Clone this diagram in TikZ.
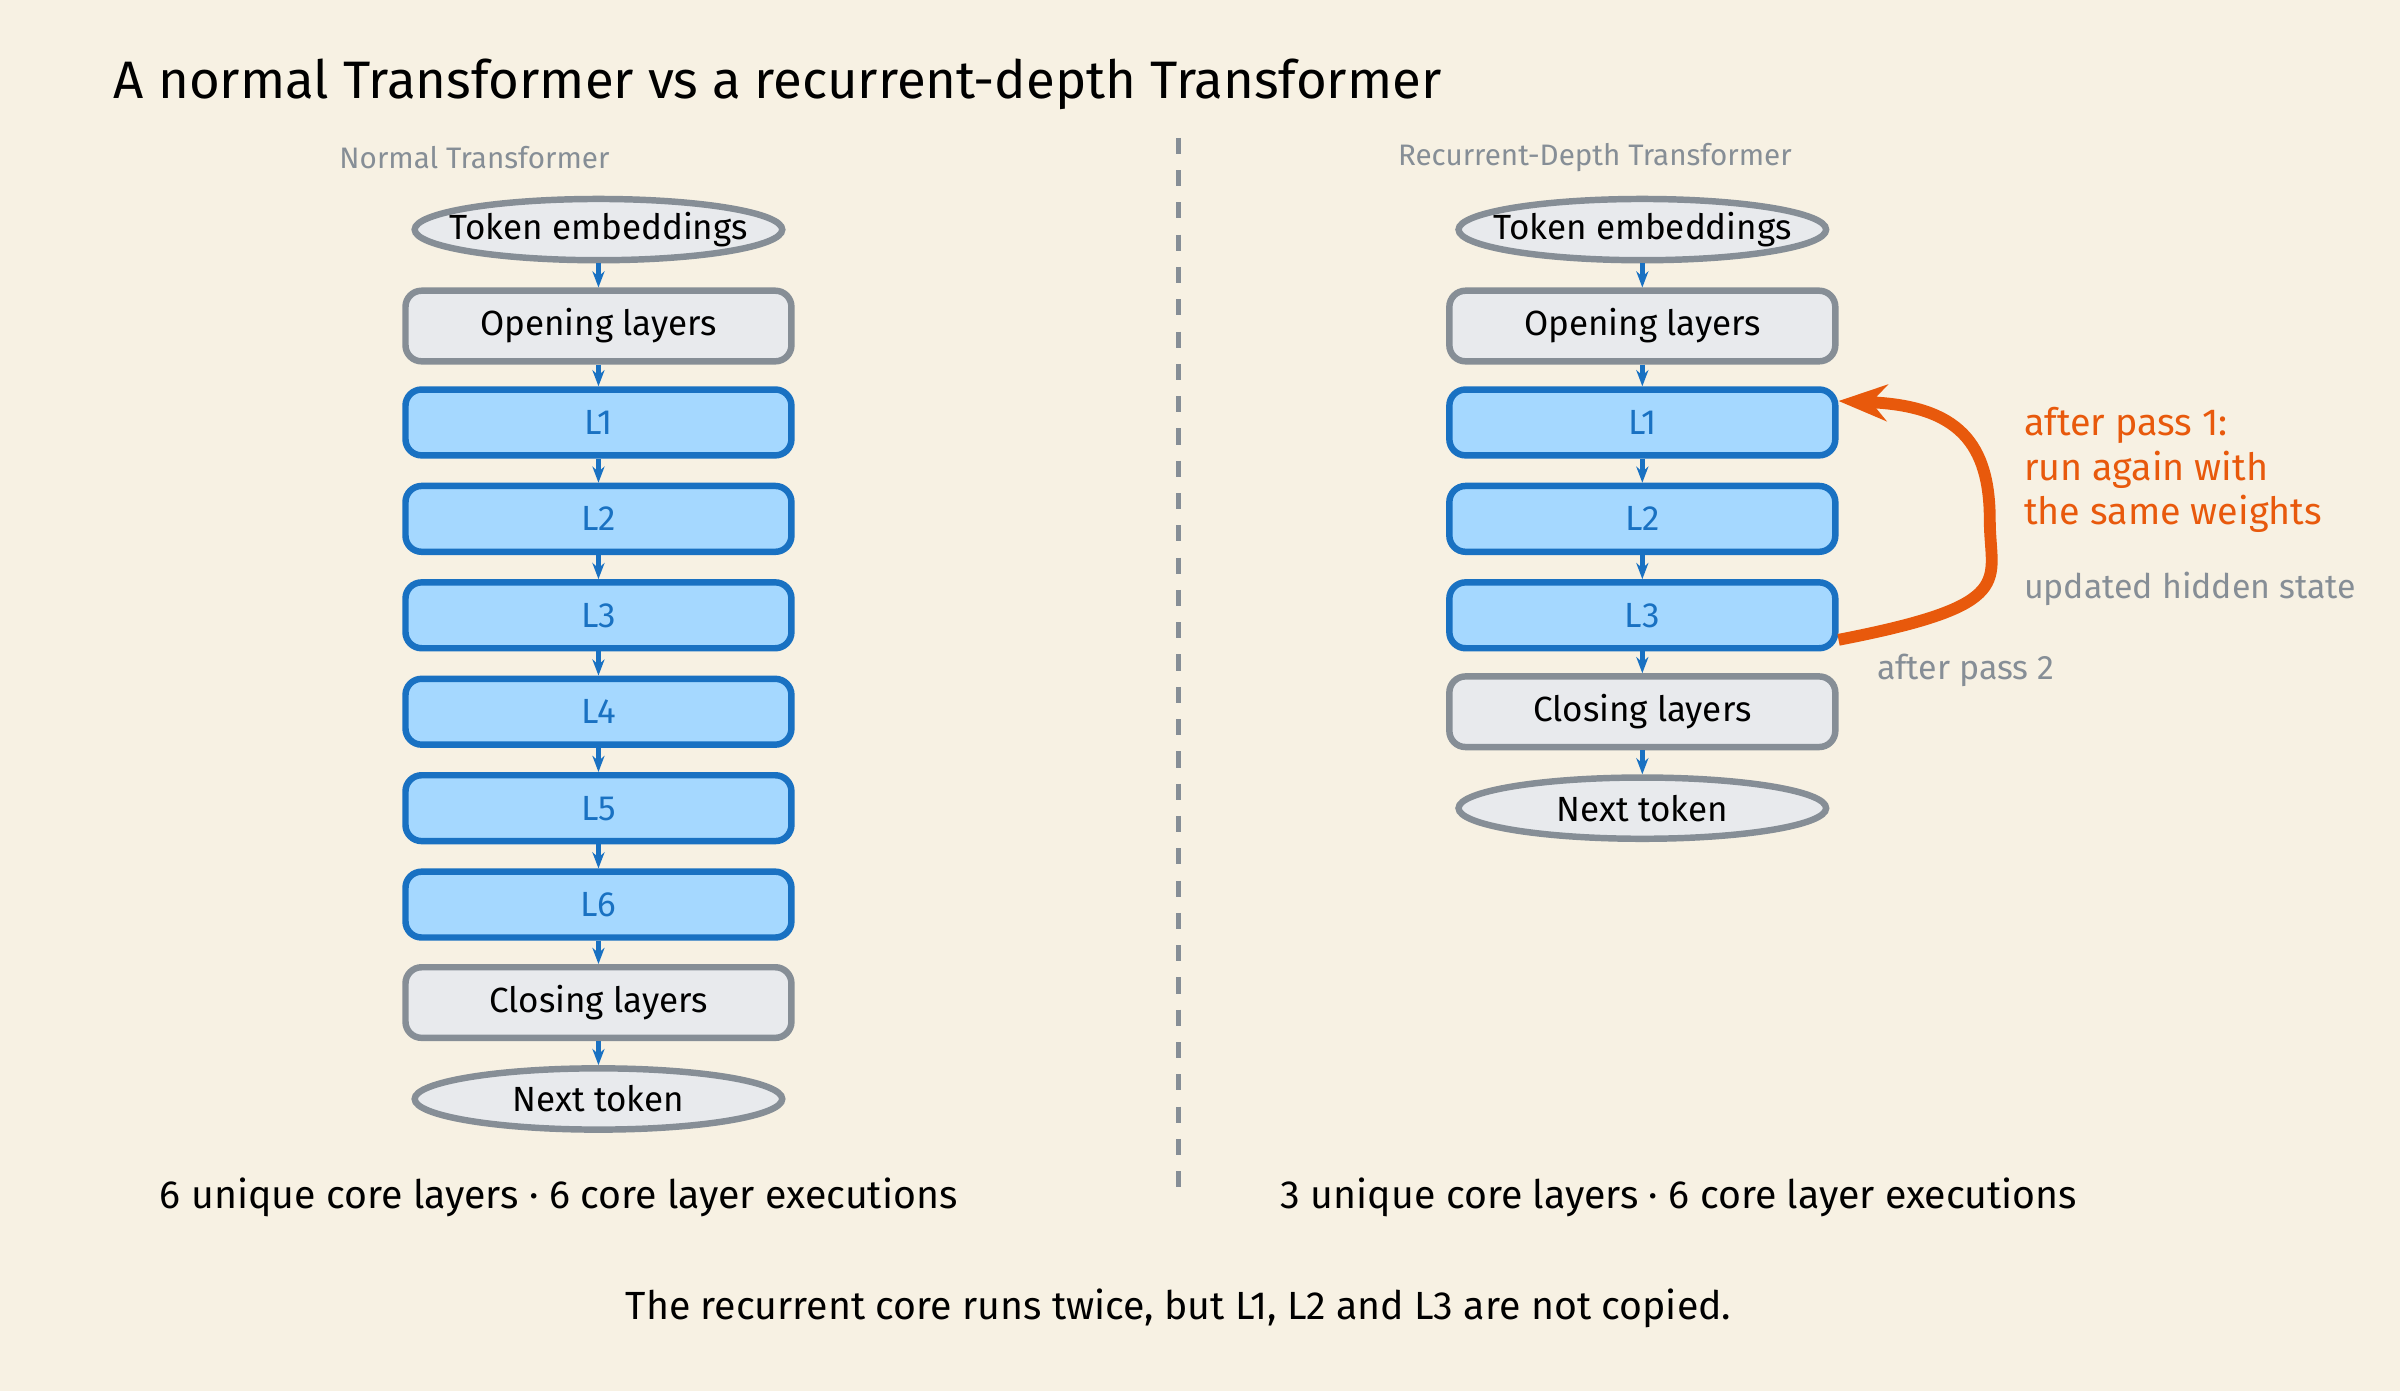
\documentclass[tikz,border=0pt]{standalone}
\usepackage{fontspec}
\setmainfont{Fira Sans}
\usetikzlibrary{shapes.geometric,arrows.meta}
\definecolor{paper}{HTML}{F7F1E3}
\definecolor{boxgray}{HTML}{E8EAED}
\definecolor{linegray}{HTML}{868E96}
\definecolor{coreblue}{HTML}{A5D8FF}
\definecolor{newblue}{HTML}{1971C2}
\definecolor{loopred}{HTML}{E8590C}
\tikzset{%
    stage/.style={draw=linegray,fill=boxgray,line width=1.2pt,rounded corners=3pt,
        minimum width=2.52cm,minimum height=0.43cm,font=\fontsize{6.5}{7}\selectfont},
    core/.style={stage,draw=newblue,fill=coreblue,text=newblue},
    io/.style={ellipse,draw=linegray,fill=boxgray,line width=1.2pt,
        inner xsep=-0.15cm,inner ysep=0pt,minimum width=2.4cm,
        minimum height=0.4cm,font=\fontsize{6.5}{7}\selectfont},
    flow/.style={->,>={Stealth[length=3pt]},newblue,thick},
    caption/.style={text=linegray,font=\fontsize{5.5}{6}\selectfont},
    summary/.style={font=\fontsize{7.3}{8}\selectfont}
}
\begin{document}
\begin{tikzpicture}[x=0.01cm,y=-0.01cm]
    \fill[paper] (0,0) rectangle (1568,909);
    \useasboundingbox (0,0) rectangle (1568,909);
    \node[anchor=west,font=\fontsize{9.8}{11}\selectfont] (title) at (62,55) {A normal Transformer vs a recurrent-depth Transformer};
    \draw[dashed,linegray,thick] (770,90) -- (770,785);
    % left column
    \node[caption] (capL) at (310,103) {Normal Transformer};
    \node[io] (tokL) at (391,150) {Token embeddings};
    \node[stage] (openL) at (391,213) {Opening layers};
    \foreach \i in {1,...,6}
        \node[core] (L\i) at (391,213+63*\i) {L\i};
    \node[stage] (closeL) at (391,655) {Closing layers};
    \node[io] (nextL) at (391,718) {Next token};
    \draw[flow] (tokL) -- (openL);
    \draw[flow] (openL) -- (L1);
    \foreach \i/\j in {1/2,2/3,3/4,4/5,5/6}
        \draw[flow] (L\i) -- (L\j);
    \draw[flow] (L6) -- (closeL);
    \draw[flow] (closeL) -- (nextL);
    \node[summary] (sumL) at (365,782) {6 unique core layers · 6 core layer executions};
    % right column
    \node[caption] (capR) at (1042,103) {Recurrent-Depth Transformer};
    \node[io] (tokR) at (1073,150) {Token embeddings};
    \node[stage] (openR) at (1073,213) {Opening layers};
    \foreach \i in {1,2,3}
        \node[core] (R\i) at (1073,213+63*\i) {L\i};
    \node[stage] (closeR) at (1073,465) {Closing layers};
    \node[io] (nextR) at (1073,528) {Next token};
    \draw[flow] (tokR) -- (openR);
    \draw[flow] (openR) -- (R1);
    \draw[flow] (R1) -- (R2);
    \draw[flow] (R2) -- (R3);
    \draw[flow] (R3) -- (closeR);
    \draw[flow] (closeR) -- (nextR);
    \draw[->,>={Stealth[length=9pt,open]},loopred,line width=2.2pt]
        ([yshift=-0.16cm]R3.east) .. controls (1320,395) and (1300,380) .. (1300,340)
        .. controls (1300,290) and (1280,265) .. ([yshift=0.14cm]R1.east);
    \node[anchor=west,align=left,text=loopred,font=\fontsize{7}{8.2}\selectfont] (pass1) at (1310,307) {after pass 1:\\run again with\\the same weights};
    \node[anchor=west,caption,font=\fontsize{6.3}{7}\selectfont] (hidden) at (1310,385) {updated hidden state};
    \node[anchor=west,caption,font=\fontsize{6.3}{7}\selectfont] (pass2) at (1214,438) {after pass 2};
    \node[summary] (sumR) at (1097,782) {3 unique core layers · 6 core layer executions};
    \node[summary] (foot) at (770,855) {The recurrent core runs twice, but L1, L2 and L3 are not copied.};
\end{tikzpicture}
\end{document}
